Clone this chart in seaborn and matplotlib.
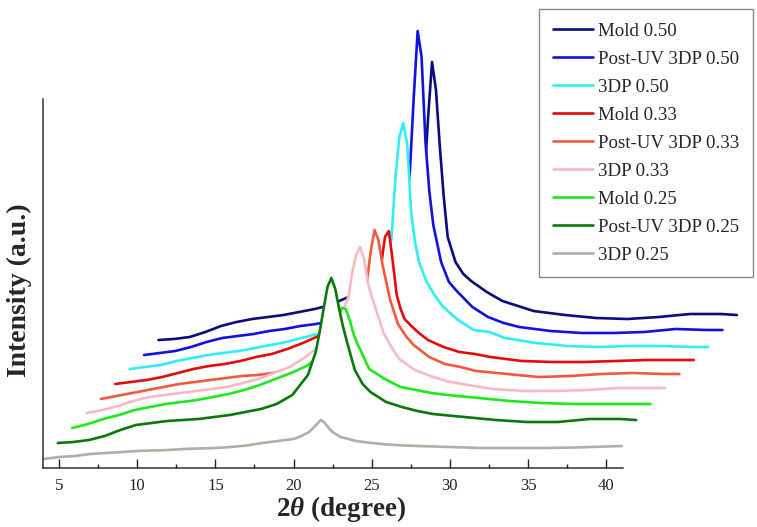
import matplotlib
import numpy as np
import pandas as pd

matplotlib.use("Agg")
import matplotlib.pyplot as plt
import seaborn as sns

# shared 2-theta scan grid (degree) and intensities (a.u.)
two_theta = [4, 5, 6, 7, 8, 9, 10, 11, 12, 13, 14, 15, 16, 17, 18, 19, 20, 20.5, 20.75, 21,
             21.25, 21.5, 21.75, 22, 22.25, 22.5, 23, 23.5, 24, 25, 26, 27, 28, 30, 32, 34,
             36, 38, 40, 41]

mold_050 = [2, 3, 5, 10, 16, 20, 23, 25, 27, 30, 33, 37, 44, 48, 55, 66, 88, 115, 135, 160,
            225, 280, 252, 195, 145, 105, 80, 68, 61, 50, 41, 36, 31, 27, 24, 23, 25, 28, 28, 27]
postuv_050 = [2, 4, 6, 10, 15, 19, 21, 23, 26, 28, 31, 33, 36, 40, 47, 58, 80, 115, 150, 185,
              260, 326, 300, 215, 165, 132, 95, 75, 66, 50, 40, 34, 30, 26, 24, 24, 25, 28, 27, 27]
tdp_050 = [3, 5, 7, 11, 14, 17, 19, 21, 24, 27, 30, 34, 38, 44, 52, 62, 80, 105, 135, 195,
           235, 249, 228, 160, 130, 110, 90, 77, 66, 52, 42, 40, 34, 29, 26, 25, 26, 26, 25, 25]
mold_033 = [3, 5, 7, 10, 14, 18, 21, 23, 26, 30, 33, 38, 44, 51, 60, 70, 86, 98, 108, 122,
            150, 156, 125, 92, 78, 68, 60, 53, 47, 40, 35, 33, 30, 26, 25, 25, 26, 27, 27, 27]
postuv_033 = [3, 6, 9, 12, 15, 18, 20, 22, 24, 26, 27, 29, 32, 37, 44, 55, 75, 92, 104, 118,
              150, 172, 162, 138, 120, 102, 78, 66, 57, 45, 38, 35, 31, 28, 25, 26, 28, 29, 28, 28]
tdp_033 = [4, 7, 11, 16, 20, 22, 24, 26, 28, 30, 34, 38, 44, 50, 60, 72, 92, 110, 120, 145,
           162, 170, 158, 134, 120, 108, 84, 70, 58, 47, 41, 36, 33, 28, 26, 26, 27, 29, 29, 29]
mold_025 = [4, 8, 13, 17, 22, 25, 28, 30, 32, 35, 38, 42, 47, 53, 59, 66, 78, 90, 103, 115,
            124, 123, 112, 98, 88, 80, 63, 58, 53, 45, 42, 39, 37, 34, 31, 29, 28, 28, 28, 28]
postuv_025 = [4, 5, 7, 11, 17, 22, 24, 26, 27, 28, 30, 32, 35, 38, 43, 52, 72, 95, 115, 138,
              160, 169, 158, 138, 120, 105, 77, 63, 55, 45, 40, 36, 33, 30, 27, 25, 25, 28, 28, 27]
tdp_025 = [3, 5, 6, 8, 9, 10, 11, 11.5, 12, 13, 13.5, 14, 15, 16.5, 19, 21, 23, 26, 28, 30,
           34, 38, 42, 39, 34, 30, 25, 23, 21, 19, 17.5, 16.5, 16, 15, 14, 14, 14, 14.5, 15.5, 16]

labels = ["Mold 0.50", "Post-UV 3DP 0.50", "3DP 0.50", "Mold 0.33", "Post-UV 3DP 0.33",
          "3DP 0.33", "Mold 0.25", "Post-UV 3DP 0.25", "3DP 0.25"]
series = [mold_050, postuv_050, tdp_050, mold_033, postuv_033, tdp_033,
          mold_025, postuv_025, tdp_025]
colors = ["#0c0c7e", "#1212e0", "#30eef8", "#e60a0a", "#f05a3c", "#f8b8c4",
          "#1ee81e", "#0b780b", "#b3ada4"]

# waterfall offsets (per step, in x and y)
dx, dy = 0.92, 15

sns.set_theme(style="ticks")
plt.rcParams["font.family"] = ["Liberation Serif", "DejaVu Serif"]
plt.rcParams["mathtext.fontset"] = "custom"
plt.rcParams["mathtext.bf"] = "Liberation Serif:italic:bold"

fig = plt.figure(figsize=(7.57, 5.27), dpi=100)
ax = fig.add_axes([43.4 / 757, 1 - 468 / 527, 580 / 757, 446 / 527])
ymin = -6

n = len(series)
for i, (lab, vals, col) in enumerate(zip(labels, series, colors)):
    k = n - 1 - i
    df = pd.DataFrame({"x": np.array(two_theta) + k * dx, "y": np.array(vals) + k * dy})
    z = 1 + 0.1 * i
    # white area under each trace hides the traces stacked behind it (waterfall look)
    ax.fill_between(df["x"], df["y"], ymin, color="white", lw=0, zorder=z, clip_on=False)
    sns.lineplot(data=df, x="x", y="y", ax=ax, color=col, lw=1.9, label=lab,
                 estimator=None, sort=False, clip_on=False, zorder=z + 0.05)

ax.set_xlim(4, 41.1)
ax.set_ylim(ymin, 440)
ax.set_xticks([5, 10, 15, 20, 25, 30, 35, 40])
ax.set_xticks(np.arange(7.5, 41, 5), minor=True)
ax.set_yticks([])
ax.tick_params(axis="x", which="major", direction="in", length=6.5, width=1,
               pad=7.5, labelsize=12, colors="#222222")
ax.tick_params(axis="x", which="minor", direction="in", length=3, width=1, colors="#222222")
ax.xaxis.set_zorder(3)
for s in ["top", "right"]:
    ax.spines[s].set_visible(False)
for s in ["left", "bottom"]:
    ax.spines[s].set_color("#333333")
    ax.spines[s].set_linewidth(1.1)
    ax.spines[s].set_zorder(3)
ax.spines["left"].set_bounds(ymin, 363)

ax.set_xlabel(r"2$\mathbf{\theta}$ (degree)", fontsize=19.5, fontweight="bold", labelpad=0)
ax.xaxis.label.set_x(0.513)
ax.set_ylabel("Intensity (a.u.)", fontsize=20, fontweight="bold")
ax.yaxis.set_label_coords(-0.02, 0.399)

leg = ax.legend(loc="upper right", bbox_to_anchor=(753 / 757, 1 - 9 / 527),
                bbox_transform=fig.transFigure, borderaxespad=0, fancybox=False,
                edgecolor="#888888", framealpha=1, fontsize=13.6, handlelength=2.15,
                handletextpad=0.26, labelspacing=0.57, borderpad=0.72)
leg.get_frame().set_linewidth(1)
leg.set_zorder(5)

fig.savefig("out.png", dpi=100)
